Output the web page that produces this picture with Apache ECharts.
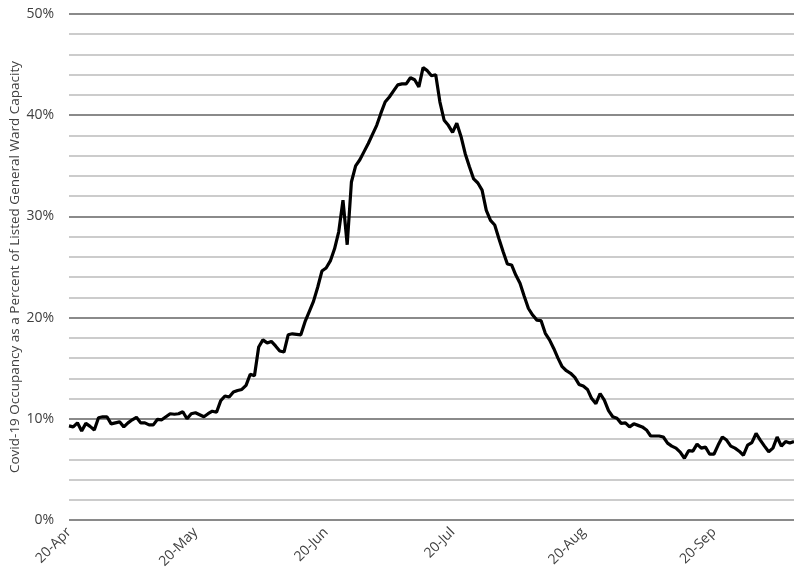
<!DOCTYPE html>
<html>
<head>
<meta charset="utf-8">
<script src="https://cdn.jsdelivr.net/npm/echarts@6/dist/echarts.min.js"></script>
<style>
  html, body { margin: 0; padding: 0; background: #fff; }
  #chart { width: 794px; height: 578px; }
</style>
</head>
<body>
<div id="chart"></div>
<script>
// first day of the series, one point per day
var startDate = new Date(2020, 3, 20);
var monthNames = ['Jan','Feb','Mar','Apr','May','Jun','Jul','Aug','Sep','Oct','Nov','Dec'];

// occupancy, % of listed general ward capacity
var occupancy = [
    9.3, 9.2, 9.6, 8.8, 9.55, 9.25, 8.9, 10.1, 10.2, 10.2,
    9.5, 9.6, 9.7, 9.2, 9.6, 9.9, 10.15, 9.6, 9.6, 9.4,
    9.4, 9.95, 9.9, 10.2, 10.5, 10.45, 10.5, 10.7, 10.0, 10.5,
    10.6, 10.4, 10.2, 10.5, 10.75, 10.65, 11.8, 12.25, 12.15, 12.65,
    12.8, 12.9, 13.3, 14.4, 14.25, 17.1, 17.8, 17.5, 17.65, 17.2,
    16.7, 16.6, 18.3, 18.4, 18.35, 18.3, 19.6, 20.6, 21.6, 23.0,
    24.6, 24.9, 25.6, 26.8, 28.5, 31.6, 27.2, 33.4, 35.0, 35.6,
    36.4, 37.2, 38.1, 39.0, 40.2, 41.3, 41.8, 42.4, 43.0, 43.1,
    43.1, 43.7, 43.5, 42.8, 44.7, 44.4, 43.9, 44.0, 41.3, 39.5,
    39.0, 38.3, 39.2, 37.9, 36.2, 34.9, 33.7, 33.3, 32.6, 30.6,
    29.6, 29.15, 27.8, 26.5, 25.3, 25.2, 24.2, 23.4, 22.1, 20.9,
    20.25, 19.75, 19.7, 18.45, 17.8, 16.95, 16.0, 15.15, 14.75, 14.5,
    14.1, 13.4, 13.25, 12.9, 12.0, 11.5, 12.5, 11.85, 10.8, 10.2,
    10.05, 9.55, 9.6, 9.2, 9.5, 9.35, 9.2, 8.9, 8.3, 8.3,
    8.3, 8.2, 7.6, 7.3, 7.1, 6.7, 6.1, 6.85, 6.8, 7.5,
    7.1, 7.2, 6.5, 6.5, 7.4, 8.2, 7.9, 7.3, 7.1, 6.8,
    6.4, 7.4, 7.65, 8.55, 7.9, 7.3, 6.75, 7.1, 8.2, 7.3,
    7.75, 7.6, 7.75
];

// y ticks
var yTicks = [0, 10, 20, 30, 40, 50];

var days = [];
for (var i = 0; i < occupancy.length; i++) {
    var d = new Date(startDate.getTime());
    d.setDate(d.getDate() + i);
    days.push(d.getDate() + '-' + monthNames[d.getMonth()]);
}

var myChart = echarts.init(document.getElementById('chart'));
var labelFont = '"Open Sans", "DejaVu Sans", sans-serif';

option = {
    backgroundColor: '#ffffff',
    animation: false,
    grid: {
        left: 69,
        right: 0,
        top: 14,
        bottom: 58,
        containLabel: false,
        outerBoundsMode: 'none'
    },
    xAxis: {
        type: 'category',
        data: days,
        boundaryGap: false,
        axisLine: { show: false },
        axisTick: { show: false },
        splitLine: { show: false },
        axisLabel: {
            rotate: 45,
            margin: 10,
            color: '#404040',
            fontFamily: labelFont,
            fontSize: 14,
            // only the 20th of each month
            interval: function (index, value) {
                return value.indexOf('20-') === 0;
            }
        }
    },
    yAxis: {
        type: 'value',
        min: yTicks[0],
        max: yTicks[yTicks.length - 1],
        interval: 10,
        name: 'Covid-19 Occupancy as a Percent of Listed General Ward Capacity',
        nameLocation: 'middle',
        nameGap: 47,
        nameMoveOverlap: false,
        nameTextStyle: {
            color: '#404040',
            fontFamily: labelFont,
            fontSize: 13.5
        },
        axisLine: { show: false },
        axisTick: { show: false },
        axisLabel: {
            margin: 15,
            color: '#404040',
            fontFamily: labelFont,
            fontSize: 14,
            formatter: '{value}%'
        },
        splitLine: {
            show: true,
            lineStyle: { color: '#8a8a8a', width: 2 }
        },
        minorTick: { show: false, splitNumber: 5 },
        minorSplitLine: {
            show: true,
            lineStyle: { color: '#cccccc', width: 2 }
        }
    },
    series: [{
        type: 'line',
        data: occupancy,
        showSymbol: false,
        symbol: 'none',
        lineStyle: { color: '#000000', width: 3.2 },
        z: 5
    }]
};
myChart.setOption(option);
</script>
</body>
</html>
